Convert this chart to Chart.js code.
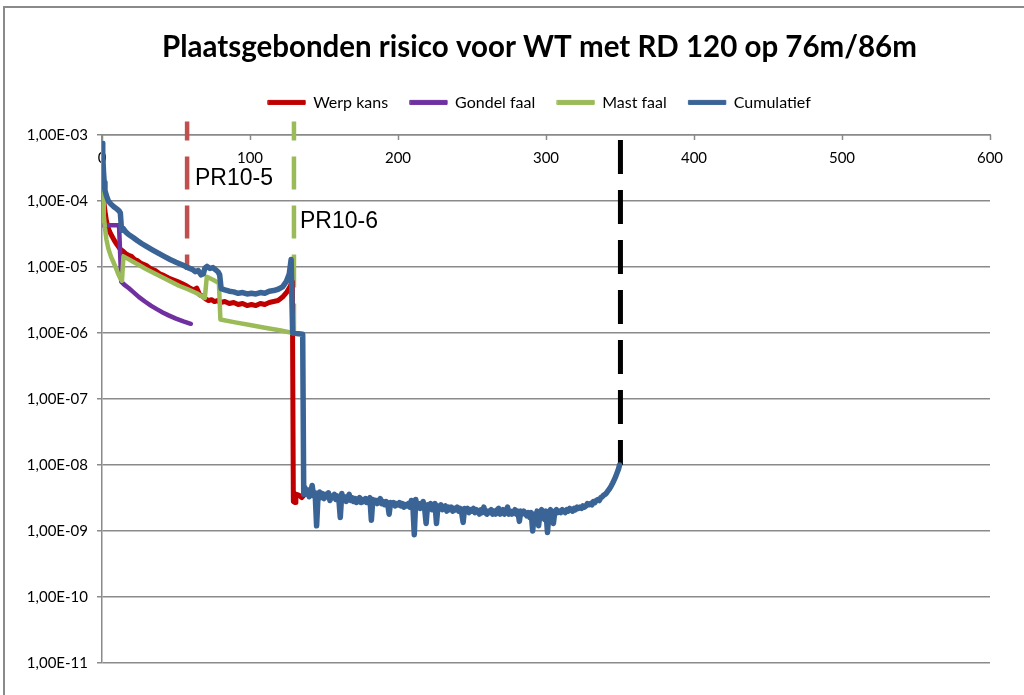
<!DOCTYPE html>
<html>
<head>
<meta charset="utf-8">
<title>Plaatsgebonden risico</title>
<script src="https://cdn.jsdelivr.net/npm/chart.js@4/dist/chart.umd.min.js"></script>
<style>
  html, body { margin: 0; padding: 0; background: #ffffff; }
  canvas { display: block; }
</style>
</head>
<body>
<canvas id="risk" width="1024" height="695"></canvas>
<script>
// Afstand tot de turbine (m) en plaatsgebonden risico per oorzaak (per jaar)
const werpDist = [0, 0.5, 1, 2, 3, 4, 5, 6.5, 8, 10, 12, 14, 16, 18, 20, 22, 24, 26, 28, 30,
  33, 36, 39, 42, 45, 48, 51, 54, 57, 60, 62, 64, 66, 68, 70, 72, 74, 76, 78, 80,
  83, 86, 89, 92, 95, 98, 101, 104, 107, 110, 113, 116, 119, 122, 125, 127, 128.6,
  129.3, 130.5, 131, 133, 135, 137];
const werpRisk = [3.2e-4, 1.6e-4, 1.1e-4, 7.0e-5, 5.0e-5, 4.0e-5, 3.5e-5, 3.0e-5, 2.6e-5, 2.2e-5,
  1.9e-5, 1.75e-5, 1.6e-5, 1.5e-5, 1.45e-5, 1.3e-5, 1.25e-5, 1.15e-5, 1.1e-5, 1.05e-5,
  9.4e-6, 8.8e-6, 7.9e-6, 7.4e-6, 6.8e-6, 6.4e-6, 6.0e-6, 5.6e-6, 5.2e-6, 4.7e-6,
  4.5e-6, 4.8e-6, 3.8e-6, 3.6e-6, 3.3e-6, 3.1e-6, 3.2e-6, 3.0e-6, 3.1e-6, 2.9e-6,
  3.0e-6, 2.8e-6, 2.9e-6, 2.7e-6, 2.8e-6, 2.6e-6, 2.7e-6, 2.6e-6, 2.8e-6, 2.7e-6,
  2.9e-6, 3.0e-6, 3.1e-6, 3.5e-6, 4.2e-6, 5.0e-6, 6.0e-6,
  2.8e-9, 2.7e-9, 3.6e-9, 3.5e-9, 3.2e-9, 3.6e-9];

const gondelDist = [0, 11.5, 13, 15, 18, 21, 25, 29, 33, 37, 41, 45, 50, 55, 60];
const gondelRisk = [4.3e-5, 4.3e-5, 6.0e-6, 5.4e-6, 4.8e-6, 4.2e-6, 3.5e-6, 3.0e-6, 2.6e-6,
  2.3e-6, 2.05e-6, 1.85e-6, 1.65e-6, 1.5e-6, 1.38e-6];

const mastDist = [0, 0.7, 1.2, 2, 3, 4.3, 6, 7.6, 9.5, 11, 12.5, 13.5, 14.5, 17, 21, 25, 29, 34,
  40, 46, 52, 58, 64, 69.5, 70.8, 75, 79, 80, 90, 100, 110, 120, 129];
const mastRisk = [1.4e-4, 1.1e-4, 6.0e-5, 3.9e-5, 2.6e-5, 1.9e-5, 1.45e-5, 1.2e-5, 9.5e-6, 7.8e-6,
  6.6e-6, 6.2e-6, 1.45e-5, 1.35e-5, 1.2e-5, 1.07e-5, 9.5e-6, 8.3e-6, 7.1e-6, 6.1e-6,
  5.2e-6, 4.6e-6, 4.0e-6, 3.4e-6, 7.1e-6, 6.4e-6, 5.7e-6, 1.6e-6, 1.45e-6, 1.32e-6,
  1.2e-6, 1.1e-6, 1.0e-6];

// Cumulatief: eerste deel tot de sprong bij ca. 136 m
const cumDistNear = [0, 0.5, 1, 1.5, 2, 3, 4.3, 6, 8, 10, 11.5, 12.4, 13.2, 14.5, 16, 18, 21, 24,
  27, 30, 34, 38, 42, 46, 50, 54, 58, 61, 63, 65, 67, 68.5, 69.5, 71, 73, 75, 77, 78.5, 79.5,
  80.5, 83, 86, 89, 92, 95, 98, 101, 104, 107, 110, 113, 116, 119, 122, 124.5, 126.5, 127.8,
  128.8, 135.6, 136.3];
const cumRiskNear = [7.5e-4, 5.0e-4, 2.8e-4, 1.9e-4, 1.45e-4, 1.2e-4, 1.0e-4, 9.0e-5, 8.2e-5,
  7.6e-5, 7.1e-5, 6.6e-5, 3.6e-5, 3.8e-5, 3.4e-5, 3.1e-5, 2.8e-5, 2.5e-5, 2.25e-5, 2.05e-5,
  1.82e-5, 1.62e-5, 1.45e-5, 1.3e-5, 1.18e-5, 1.08e-5, 9.8e-6, 9.2e-6, 8.5e-6, 8.8e-6,
  7.6e-6, 7.9e-6, 9.6e-6, 1.02e-5, 9.5e-6, 9.8e-6, 9.0e-6, 8.4e-6, 7.6e-6, 4.7e-6,
  4.5e-6, 4.3e-6, 4.2e-6, 4.0e-6, 4.1e-6, 3.9e-6, 4.0e-6, 3.9e-6, 4.1e-6, 4.0e-6,
  4.3e-6, 4.4e-6, 4.6e-6, 5.0e-6, 6.0e-6, 7.8e-6, 1.3e-5,
  1.0e-6, 9.6e-7, 3.6e-9];

// Cumulatief: staart van 137 m tot de contour bij ca. 350 m (waarden in 1e-9)
const cumDistFar = [137, 138, 139, 140, 141, 142, 143, 144, 145, 146, 147, 148, 149, 150, 151,
  152, 153, 154, 155, 156, 157, 158, 159, 160, 161, 162, 163, 164, 165, 166, 167, 168, 169,
  170, 171, 172, 173, 174, 175, 176, 177, 178, 179, 180, 181, 182, 183, 184, 185, 186, 187,
  188, 189, 190, 191, 192, 193, 194, 195, 196, 197, 198, 199, 200, 201, 202, 203, 204, 205,
  206, 207, 208, 209, 210, 211, 212, 213, 214, 215, 216, 217, 218, 219, 220, 221, 222, 223,
  224, 225, 226, 227, 228, 229, 230, 231, 232, 233, 234, 235, 236, 237, 238, 239, 240, 241,
  242, 243, 244, 245, 246, 247, 248, 249, 250, 251, 252, 253, 254, 255, 256, 257, 258, 259,
  260, 261, 262, 263, 264, 265, 266, 267, 268, 269, 270, 271, 272, 273, 274, 275, 276, 277,
  278, 279, 280, 281, 282, 283, 284, 285, 286, 287, 288, 289, 290, 291, 292, 293, 294, 295,
  296, 297, 298, 299, 300, 301, 302, 303, 304, 305, 306, 307, 308, 309, 310, 311, 312, 313,
  314, 315, 316, 317, 318, 319, 320, 321, 322, 323, 324, 325, 326, 327, 328, 329, 330, 331,
  332, 333, 334, 335, 336, 337, 338, 339, 340, 341, 342, 343, 344, 345, 346, 347, 348, 349,
  349.7];
const cumRiskFar = [4.6, 3.6, 4.2, 3.3, 3.9, 4.9, 3.4, 3.8, 1.2, 3.5, 3.9, 3.2, 3.7, 3.1, 3.6,
  3.3, 3.8, 2.9, 3.4, 3.2, 3.6, 3.0, 3.4, 3.1, 1.6, 3.7, 3.0, 3.3, 2.8, 3.2, 3.6, 2.9, 3.2,
  2.8, 3.1, 2.7, 3.0, 3.2, 2.7, 3.0, 2.8, 3.1, 2.7, 2.9, 3.2, 1.45, 3.0, 2.7, 2.9, 2.6, 2.9,
  3.1, 2.6, 2.8, 2.5, 2.8, 2.6, 1.8, 2.7, 2.5, 2.7, 2.4, 2.6, 2.5, 2.7, 2.4, 2.6, 2.3, 2.5,
  2.4, 2.6, 2.3, 2.9, 2.5, 0.88, 3.0, 2.3, 2.6, 2.2, 2.5, 2.8, 2.2, 1.3, 2.5, 2.3, 2.6, 2.1,
  2.4, 2.6, 1.3, 2.4, 2.2, 2.5, 2.1, 2.3, 2.4, 2.0, 2.3, 2.1, 2.3, 2.0, 2.2, 2.1, 2.3, 2.0,
  2.2, 1.9, 1.35, 2.2, 2.0, 2.2, 1.9, 2.1, 2.0, 2.2, 1.9, 2.1, 2.0, 1.8, 2.1, 1.9, 2.3, 1.9,
  1.8, 2.0, 1.9, 2.1, 1.8, 2.0, 1.8, 2.1, 2.2, 1.8, 1.9, 2.1, 1.8, 2.0, 2.3, 1.8, 2.0, 1.8,
  1.9, 2.1, 1.8, 2.0, 1.4, 2.0, 1.8, 2.0, 1.9, 1.7, 1.9, 1.6, 1.9, 1.0, 1.8, 1.5, 2.0, 1.2,
  1.9, 2.1, 1.7, 1.5, 2.0, 0.95, 1.9, 2.1, 1.7, 1.3, 2.0, 2.1, 1.9, 2.0, 1.9, 2.1, 2.0, 1.9,
  2.1, 2.0, 2.2, 2.1, 2.0, 2.2, 2.1, 2.3, 2.2, 2.3, 2.2, 2.4, 2.3, 2.4, 2.6, 2.5, 2.6, 2.5,
  2.8, 2.7, 2.9, 3.0, 2.9, 3.2, 3.3, 3.5, 3.6, 3.8, 4.1, 4.4, 4.8, 5.3, 5.9, 6.6, 7.6, 8.7,
  10.0];

// Verticale markeringen: PR10-5, PR10-6 en einde van de risicocontour
const markerDist = [57.5, 129.7, 350.3];
const markerTop = [1.6e-3, 1.6e-3, 8.4e-4];
const markerBottom = [9.0e-6, 1.0e-6, 1.0e-8];

// Tekstlabels bij de markeringen
const noteText = ['PR10-5', 'PR10-6'];
const noteDist = [62.8, 133.8];
const noteRisk = [2.15e-4, 4.8e-5];

// As-instellingen
const yTickValues = [1e-11, 1e-10, 1e-9, 1e-8, 1e-7, 1e-6, 1e-5, 1e-4, 1e-3];
const yTickLabels = ['1,00E-11', '1,00E-10', '1,00E-09', '1,00E-08', '1,00E-07',
  '1,00E-06', '1,00E-05', '1,00E-04', '1,00E-03'];
const xMin = 0, xMax = 600, xStep = 100;

const pairs = (xs, ys, f) => xs.map((x, i) => ({ x: x, y: ys[i] * (f || 1) }));

const GRID = '#8a8a8a';
const FONT = 'Lato, "Open Sans", sans-serif';

function seriesSet(label, points, color, width, order) {
  return {
    label: label,
    data: points,
    borderColor: color,
    backgroundColor: color,
    borderWidth: width,
    pointRadius: 0,
    pointHoverRadius: 0,
    tension: 0,
    fill: false,
    order: order,
    borderJoinStyle: 'round',
    borderCapStyle: 'round'
  };
}

function markerSet(i, color, width, dash, offset) {
  return {
    label: 'marker' + i,
    data: [{ x: markerDist[i], y: markerTop[i] }, { x: markerDist[i], y: markerBottom[i] }],
    borderColor: color,
    borderWidth: width,
    borderDash: dash,
    borderDashOffset: offset,
    borderCapStyle: 'butt',
    pointRadius: 0,
    pointHoverRadius: 0,
    fill: false,
    clip: false,
    order: 10
  };
}

// Omlijsting, korte streepjes op de x-as en tekstlabels
const decorations = {
  id: 'decorations',
  beforeDraw(chart) {
    const ctx = chart.ctx;
    ctx.save();
    ctx.strokeStyle = GRID;
    ctx.lineWidth = 2;
    ctx.strokeRect(4, 7, 1100, 800);
    ctx.restore();
  },
  afterDatasetsDraw(chart) {
    const ctx = chart.ctx;
    const xs = chart.scales.x, ys = chart.scales.y;
    const area = chart.chartArea;
    ctx.save();
    ctx.strokeStyle = GRID;
    ctx.lineWidth = 1.5;
    xs.ticks.forEach(t => {
      const px = Math.round(xs.getPixelForValue(t.value)) + 0.5;
      ctx.beginPath();
      ctx.moveTo(px, area.top);
      ctx.lineTo(px, area.top + 5);
      ctx.stroke();
    });
    ctx.fillStyle = '#000000';
    ctx.font = '23px "Liberation Sans", Arial, sans-serif';
    ctx.textAlign = 'left';
    ctx.textBaseline = 'middle';
    noteText.forEach((txt, i) => {
      ctx.fillText(txt, xs.getPixelForValue(noteDist[i]), ys.getPixelForValue(noteRisk[i]));
    });
    ctx.restore();
  }
};

const cumPoints = pairs(cumDistNear, cumRiskNear).concat(pairs(cumDistFar, cumRiskFar, 1e-9));

const chart = new Chart(document.getElementById('risk'), {
  type: 'line',
  data: {
    datasets: [
      seriesSet('Werp kans', pairs(werpDist, werpRisk), '#C00000', 5, 4),
      seriesSet('Gondel faal', pairs(gondelDist, gondelRisk), '#7030A0', 4.5, 3),
      seriesSet('Mast faal', pairs(mastDist, mastRisk), '#9BBB59', 4.5, 2),
      seriesSet('Cumulatief', cumPoints, '#3A6496', 5.5, 1),
      markerSet(0, '#C0504D', 4.5, [33, 16], 14),
      markerSet(1, '#9BBB59', 4.5, [33, 16], 14),
      markerSet(2, '#000000', 5, [34, 16], 0)
    ]
  },
  options: {
    responsive: false,
    animation: false,
    events: [],
    // titel en legenda iets rechts van het midden, boven het plotvlak
    layout: { padding: { left: 0, right: -55, top: 0, bottom: 32 } },
    plugins: {
      title: {
        display: true,
        text: 'Plaatsgebonden risico voor WT met RD 120 op 76m/86m',
        color: '#000000',
        font: { family: FONT, size: 29.5, weight: 'bold', lineHeight: 1.2 },
        padding: { top: 30, bottom: 7 }
      },
      legend: {
        display: true,
        position: 'top',
        labels: {
          color: '#000000',
          font: { family: FONT, size: 16 },
          boxWidth: 37,
          boxHeight: 4,
          padding: 22,
          filter: item => item.datasetIndex < 4,
          sort: (a, b) => a.datasetIndex - b.datasetIndex,
          generateLabels(ch) {
            const items = Chart.defaults.plugins.legend.labels.generateLabels(ch);
            items.forEach(it => {
              it.fillStyle = it.strokeStyle;
              it.lineWidth = 1;
              it.lineDash = [];
            });
            return items;
          }
        }
      },
      tooltip: { enabled: false }
    },
    scales: {
      x: {
        type: 'linear',
        position: 'top',
        min: xMin,
        max: xMax,
        afterFit(scale) {
          const ch = scale.chart;
          const used = (ch.titleBlock ? ch.titleBlock.height : 0) + (ch.legend ? ch.legend.height : 0);
          scale.height = Math.max(0, 135 - used);
        },
        ticks: {
          stepSize: xStep,
          mirror: true,
          padding: 14,
          color: '#000000',
          maxRotation: 0,
          font: { family: FONT, size: 15 }
        },
        grid: { display: true, drawOnChartArea: false, drawTicks: false },
        border: { display: true, color: GRID, width: 1.5 }
      },
      y: {
        type: 'logarithmic',
        position: 'left',
        min: yTickValues[0],
        max: yTickValues[yTickValues.length - 1],
        afterFit(scale) { scale.width = 102; },
        afterBuildTicks(scale) {
          scale.ticks = yTickValues.map(v => ({ value: v, major: false }));
        },
        ticks: {
          padding: 9,
          color: '#000000',
          font: { family: FONT, size: 15 },
          callback: (v) => {
            const i = yTickValues.findIndex(t => Math.abs(Math.log10(t) - Math.log10(v)) < 1e-6);
            return i >= 0 ? yTickLabels[i] : '';
          }
        },
        grid: { color: GRID, lineWidth: 1.5, drawTicks: true, tickLength: 5, tickColor: GRID },
        border: { display: true, color: GRID, width: 1.5 }
      },
      // lege strook rechts van het plotvlak
      rightMargin: {
        type: 'linear',
        axis: 'y',
        position: 'right',
        display: true,
        afterFit(scale) { scale.width = 89; },
        ticks: { display: false },
        grid: { display: false, drawTicks: false },
        border: { display: false }
      }
    }
  },
  plugins: [decorations]
});
</script>
</body>
</html>
